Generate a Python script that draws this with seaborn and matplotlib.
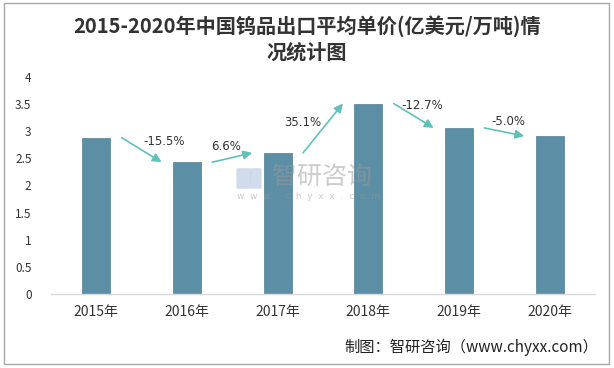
import matplotlib
matplotlib.use("Agg")
import matplotlib.pyplot as plt
import seaborn as sns
import pandas as pd
from matplotlib.patches import Rectangle, FancyBboxPatch

years = ["2015年", "2016年", "2017年", "2018年", "2019年", "2020年"]
prices = [2.88, 2.43, 2.60, 3.51, 3.06, 2.91]
growth_labels = ["-15.5%", "6.6%", "35.1%", "-12.7%", "-5.0%"]
y_ticks = [0, 0.5, 1, 1.5, 2, 2.5, 3, 3.5, 4]
y_tick_labels = ["0", "0.5", "1", "1.5", "2", "2.5", "3", "3.5", "4"]

title = "2015-2020年中国钨品出口平均单价(亿美元/万吨)情\n况统计图"
source = "制图：智研咨询（www.chyxx.com）"

sns.set_theme(style="white")
plt.rcParams["font.family"] = ["Noto Sans CJK SC", "DejaVu Sans"]

df = pd.DataFrame({"year": years, "price": prices})

fig = plt.figure(figsize=(6.14, 3.68), dpi=100)
ax = fig.add_axes([0.083, 0.201, 0.886, 0.590])

sns.barplot(data=df, x="year", y="price", color="#5C8FA6", width=0.31,
            saturation=1, edgecolor="#4D7F97", linewidth=0.5, ax=ax)

ax.set_ylim(0, 4)
ax.set_xlim(-0.5, len(years) - 0.5)
ax.set_yticks(y_ticks)
ax.set_yticklabels(y_tick_labels)
ax.set_xlabel("")
ax.set_ylabel("")
for s in ["top", "right", "left"]:
    ax.spines[s].set_visible(False)
ax.spines["bottom"].set_color("#D9D9D9")
ax.spines["bottom"].set_linewidth(1)
ax.tick_params(axis="y", length=0, labelsize=8.5, colors="#333333", pad=14)
ax.tick_params(axis="x", length=0, labelsize=10, colors="#333333", pad=8)

arrow_color = "#5FC1B9"
# per-label text offsets (dx in category units, dy in value units)
label_dx = [0.25, -0.07, -0.22, 0.10, 0.04]
label_dy = [0.15, 0.20, 0.11, 0.19, 0.20]
for i, lab in enumerate(growth_labels):
    x0, y0 = i + 0.28, prices[i]
    x1, y1 = i + 1 - 0.28, prices[i + 1]
    ax.annotate("", xy=(x1, y1), xytext=(x0, y0),
                arrowprops=dict(arrowstyle="-|>", color=arrow_color, lw=1.2,
                                mutation_scale=13, shrinkA=0, shrinkB=0))
    ax.text(i + 0.5 + label_dx[i], (y0 + y1) / 2 + label_dy[i], lab,
            ha="center", va="center", fontsize=8.5, color="#333333",
            family=["DejaVu Sans"])

# watermark
fig.text(0.525, 0.518, "智研咨询", fontsize=18, color="#9A9A9A", alpha=0.5,
         ha="center", va="center")
fig.text(0.502, 0.467, "w  w  w  .  c  h  y  x  x  .  c  o  m", fontsize=6.5,
         color="#9A9A9A", alpha=0.5, ha="center", va="center", family=["DejaVu Sans"])
fig.patches.append(FancyBboxPatch((0.388, 0.49), 0.018, 0.05,
                                  boxstyle="round,pad=0.003", transform=fig.transFigure,
                                  facecolor="#C5D3E6", edgecolor="none", alpha=0.8))
fig.patches.append(FancyBboxPatch((0.411, 0.49), 0.012, 0.05,
                                  boxstyle="round,pad=0.003", transform=fig.transFigure,
                                  facecolor="#C5D3E6", edgecolor="none", alpha=0.8))

fig.text(0.5, 0.895, title, ha="center", va="center", fontsize=14.5,
         weight="bold", color="#333333", linespacing=1.3)
fig.text(0.975, 0.057, source, ha="right", va="center", fontsize=11,
         color="#222222")

fig.patches.append(Rectangle((0.006, 0.01), 0.986, 0.983, transform=fig.transFigure,
                             fill=False, edgecolor="#A6A6A6", linewidth=1))

fig.savefig("out.png", dpi=100)
